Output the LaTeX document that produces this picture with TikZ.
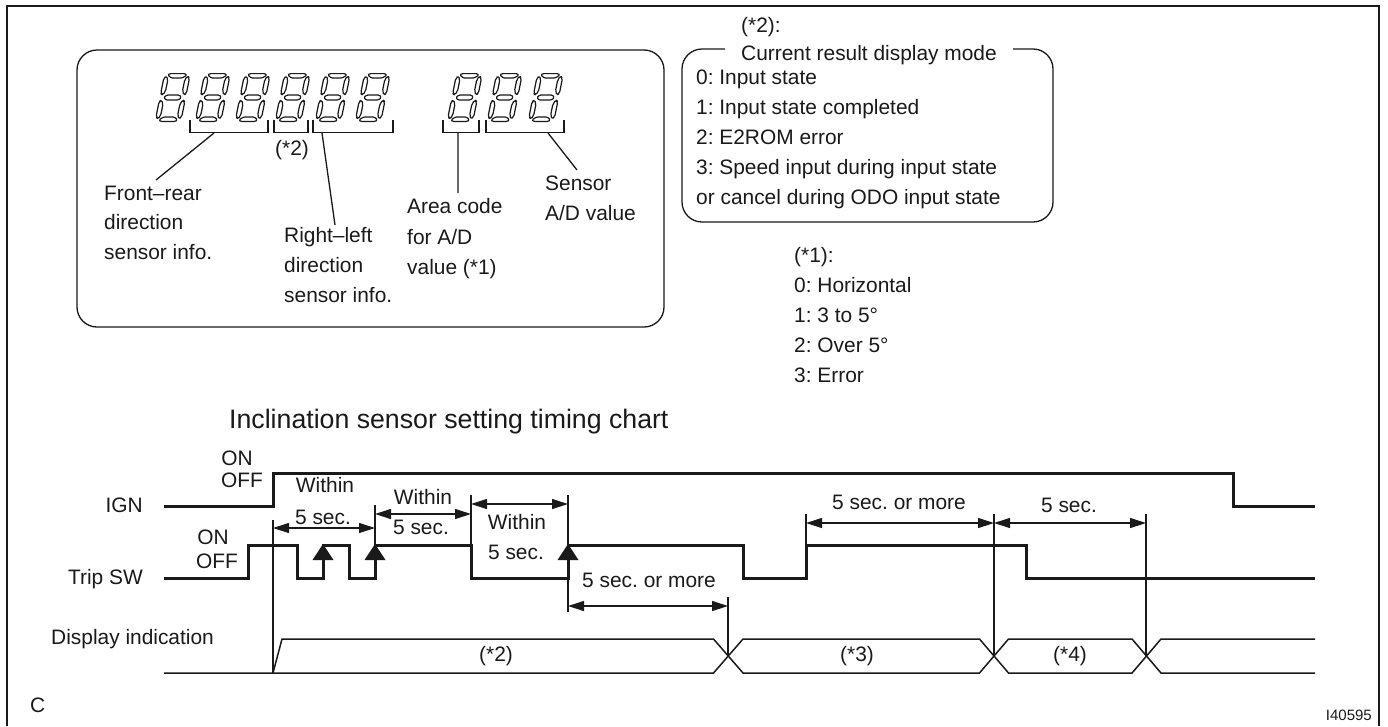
\documentclass[tikz,border=0pt]{standalone}
\usepackage{fontspec}
\setmainfont{Liberation Sans}
\usetikzlibrary{arrows.meta}
\definecolor{ink}{HTML}{1A1A1A}
\tikzset{
  thin line/.style={draw=ink,line width=1.3pt},
  frame line/.style={draw=ink,line width=2.6pt},
  signal/.style={draw=ink,line width=3pt,line join=miter},
  bus/.style={draw=ink,line width=1.5pt,line join=miter},
  seg/.style={draw=ink,line width=1.2pt,line join=round,rounded corners=1.2pt},
  dim/.style={draw=ink,line width=1.2pt,{Triangle[length=16pt,width=10pt]}-{Triangle[length=16pt,width=10pt]},shorten <=0pt,shorten >=0pt},
  edge tip/.style={fill=ink,draw=none},
  lbl/.style={inner sep=0pt,text=ink,font=\fontsize{20.9}{24}\selectfont\frenchspacing,text height=15pt,text depth=0pt},
  lw/.style={lbl,anchor=west},
  lc/.style={lbl,anchor=center},
  le/.style={lbl,anchor=east},
}
\newcommand{\sevenseg}[1]{%
  \begin{scope}[shift={(#1+9.8,73)},xslant=0.2]
    \draw[seg] (5,0.6)--(20.5,0.6)--(22.5,2)--(18.5,5)--(7.5,5)--(3.5,2)--cycle;
    \draw[seg] (6.5,22)--(19,22)--(21.5,24.5)--(19,27)--(6.5,27)--(4,24.5)--cycle;
    \draw[seg] (7.5,44)--(18.5,44)--(22,47)--(20,48.5)--(5.5,48.5)--(3.5,47)--cycle;
    \draw[seg,rounded corners=2pt] (0,5)--(2.3,3)--(4.4,6.5)--(4.4,18.5)--(2,22)--(0,20.5)--cycle;
    \draw[seg,rounded corners=2pt] (25.7,5)--(23.4,3)--(21.3,6.5)--(21.3,18.5)--(23.7,22)--(25.7,20.5)--cycle;
    \draw[seg,rounded corners=2pt] (0,28.5)--(2,27)--(4.4,30.5)--(4.4,42.5)--(2.3,46)--(0,44)--cycle;
    \draw[seg,rounded corners=2pt] (25.7,28.5)--(23.7,27)--(21.3,30.5)--(21.3,42.5)--(23.4,46)--(25.7,44)--cycle;
  \end{scope}}
\newcommand{\bracket}[2]{\draw[thin line] (#1,120)--(#1,132.5)--(#2,132.5)--(#2,120);}
\begin{document}
\begin{tikzpicture}[x=1pt,y=-1pt]
\useasboundingbox (0,0) rectangle (1388,726);
\fill[white] (0,0) rectangle (1388,726);
% frame
\draw[frame line] (7,726)--(7,6)--(1379,6)--(1379,726);
% display box
\draw[thin line,rounded corners=20pt] (77,50) rectangle (664,327);
\foreach \p in {155,195,235,275,315,355,447,487,528} {\sevenseg{\p}}
\bracket{190}{268}\bracket{274}{308}\bracket{313}{393}\bracket{443}{479}\bracket{486}{564}
% leader anchors
\coordinate (fr) at (214,133); \coordinate (fre) at (156,180);
\coordinate (rl) at (322,133); \coordinate (rle) at (335,225);
\coordinate (ac) at (458,133); \coordinate (ace) at (458,193);
\coordinate (se) at (548,133); \coordinate (see) at (577,170);
\draw[thin line] (fr)--(fre) (rl)--(rle) (ac)--(ace) (se)--(see);
\node[lc] (star2) at (292,148) {(*2)};
\node[lw] (fr1) at (104,193) {Front–rear};
\node[lw] (fr2) at (104,222) {direction};
\node[lw] (fr3) at (104,252) {sensor info.};
\node[lw] (rl1) at (284,235) {Right–left};
\node[lw] (rl2) at (284,265) {direction};
\node[lw] (rl3) at (284,295) {sensor info.};
\node[lw] (ac1) at (407,206) {Area code};
\node[lw] (ac2) at (407,237) {for A/D};
\node[lw] (ac3) at (407,267) {value (*1)};
\node[lw] (se1) at (545,183) {Sensor};
\node[lw] (se2) at (545,213) {A/D value};
% mode box
\draw[thin line,rounded corners=20pt] (725,49)--(682,49)--(682,222)--(1053,222)--(1053,49)--(1013,49);
\node[lw] (m0) at (741,25) {(*2):};
\node[lw] (m1) at (741,53) {Current result display mode};
\node[lw] (m2) at (696,77) {0: Input state};
\node[lw] (m3) at (696,107) {1: Input state completed};
\node[lw] (m4) at (696,137) {2: E2ROM error};
\node[lw] (m5) at (696,167) {3: Speed input during input state};
\node[lw] (m6) at (696,197) {or cancel during ODO input state};
\node[lw] (a0) at (794,255) {(*1):};
\node[lw] (a1) at (794,285) {0: Horizontal};
\node[lw] (a2) at (794,315) {1: 3 to 5°};
\node[lw] (a3) at (794,345) {2: Over 5°};
\node[lw] (a4) at (794,375) {3: Error};
% title
\node[lw,font=\fontsize{26.7}{30}\selectfont\frenchspacing,text height=19pt] (title) at (229,419) {Inclination sensor setting timing chart};
% left labels
\node[le] (ign) at (143,505) {IGN};
\node[le] (trip) at (143,577) {Trip SW};
\node[lw] (disp) at (51,637) {Display indication};
\node[lw] (c) at (30,705) {C};
\node[le,font=\fontsize{15}{17}\selectfont,text height=11pt] (id) at (1372,715) {I40595};
\node[lc] (on1) at (237,458) {ON};
\node[lc] (off1) at (242,480) {OFF};
\node[lc] (on2) at (213,537) {ON};
\node[lc] (off2) at (217,561) {OFF};
% thin verticals
\coordinate (t1) at (273,520); \coordinate (b1) at (273,673);
\coordinate (t2) at (375,505); \coordinate (b2) at (375,545);
\coordinate (t3) at (471,495); \coordinate (b3) at (471,545);
\coordinate (t4) at (568,495); \coordinate (b4) at (568,612);
\coordinate (t5) at (728,597); \coordinate (b5) at (728,656);
\coordinate (t6) at (806,514); \coordinate (b6) at (806,545);
\coordinate (t7) at (994,514); \coordinate (b7) at (994,656);
\coordinate (t8) at (1146,514); \coordinate (b8) at (1146,656);
\draw[thin line] (t1)--(b1) (t2)--(b2) (t3)--(b3) (t4)--(b4) (t5)--(b5) (t6)--(b6) (t7)--(b7) (t8)--(b8);
% signals
\draw[signal] (164,506)--(273,506)--(273,473)--(1233,473)--(1233,506)--(1315,506);
\draw[signal] (164,578)--(248,578)--(248,545)--(297,545)--(297,578)--(323,578)--(323,545)--(349,545)--(349,578)--(375,578)--(375,545)--(471,545)--(471,578)--(568,578)--(568,545)--(743,545)--(743,578)--(806,578)--(806,545)--(1026,545)--(1026,578)--(1315,578);
\foreach \x in {323,375,568} {\fill[edge tip] (\x,544)--(\x+10.5,560)--(\x-10.5,560)--cycle;}
% display bus
\draw[bus] (164,673)--(713.5,673)--(743,639)--(979.5,639)--(1008.5,673)--(1132,673)--(1161,639)--(1315,639);
\draw[bus] (273,673)--(282,639)--(713.5,639)--(743,673)--(979.5,673)--(1008.5,639)--(1132,639)--(1161,673)--(1315,673);
% dimension arrows
\coordinate (d1a) at (273,528); \coordinate (d1b) at (375,528);
\coordinate (d2a) at (375,514); \coordinate (d2b) at (471,514);
\coordinate (d3a) at (471,504); \coordinate (d3b) at (568,504);
\coordinate (d4a) at (568,606); \coordinate (d4b) at (728,606);
\coordinate (d5a) at (806,523); \coordinate (d5b) at (994,523);
\coordinate (d6a) at (994,523); \coordinate (d6b) at (1146,523);
\draw[dim] (d1a)--(d1b);
\draw[dim] (d2a)--(d2b);
\draw[dim] (d3a)--(d3b);
\draw[dim] (d4a)--(d4b);
\draw[dim] (d5a)--(d5b);
\draw[dim] (d6a)--(d6b);
% chart labels
\node[lc] (w1) at (325,485) {Within};
\node[lc] (s1) at (323,517) {5 sec.};
\node[lc] (w2) at (423,497) {Within};
\node[lc] (s2) at (421,527) {5 sec.};
\node[lc] (w3) at (517,522) {Within};
\node[lc] (s3) at (516,552) {5 sec.};
\node[lc] (s4) at (649,580) {5 sec. or more};
\node[lc] (s5) at (899,502) {5 sec. or more};
\node[lc] (s6) at (1069,505) {5 sec.};
\node[lc] (st2) at (496,654) {(*2)};
\node[lc] (st3) at (857,654) {(*3)};
\node[lc] (st4) at (1070,654) {(*4)};
\end{tikzpicture}
\end{document}
